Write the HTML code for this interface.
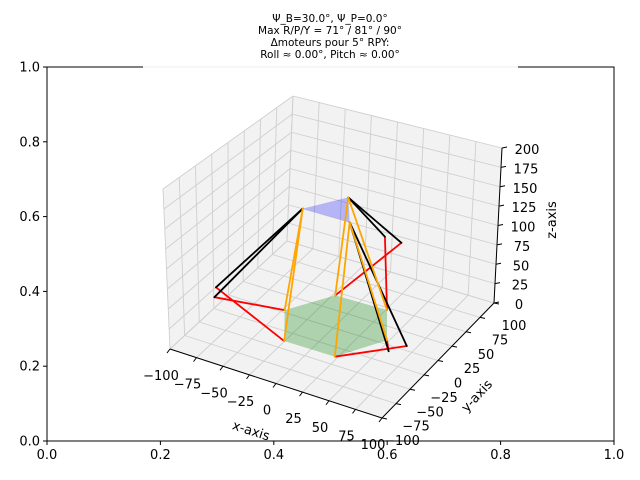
<!DOCTYPE html>
<html><head><meta charset="utf-8">
<style>
html,body{margin:0;padding:0;background:#fff;}
svg{display:block;font-family:"DejaVu Sans","Liberation Sans",sans-serif;}
</style></head>
<body>
<svg id="chart" width="640" height="480" viewBox="0 0 640 480" xmlns="http://www.w3.org/2000/svg" style="position:absolute;left:0;top:0">
  <g id="outer"></g>
  <g font-size="10.5" text-anchor="middle" fill="#000">
    <text x="330" y="22">Ψ_B=30.0°, Ψ_P=0.0°</text>
    <text x="330" y="34">Max R/P/Y = 71° / 81° / 90°</text>
    <text x="330" y="46">Δmoteurs pour 5° RPY:</text>
    <text x="330" y="58">Roll ≈ 0.00°, Pitch ≈ 0.00°</text>
  </g>
  <g id="box"></g>
  <g id="data"></g>
  <g id="labels"></g>
  <g font-size="13">
    <text x="251" y="435" text-anchor="middle" transform="rotate(18 251 431)">x-axis</text>
    <text x="477" y="400" text-anchor="middle" transform="rotate(-47 477 396)">y-axis</text>
    <text x="552" y="224" text-anchor="middle" transform="rotate(-90 552 220)">z-axis</text>
  </g>
</svg>
<script>
// ---- data ----
const outerTicks = [0.0, 0.2, 0.4, 0.6, 0.8, 1.0];
const xTicks = [-100, -75, -50, -25, 0, 25, 50, 75, 100];
const yTicks = [-100, -75, -50, -25, 0, 25, 50, 75, 100];
const zTicks = [0, 25, 50, 75, 100, 125, 150, 175, 200];
// base joints (z=0)
const baseX = [-47, -25, 22, 47, 25, -22];
const baseY = [3, -39, -38, 7, 48, 45];
const baseZ = [0, 0, 0, 0, 0, 0];
// platform joints
const platX = [-22, -22, 21, 21, 2, 2];
const platY = [-12, -12, -10, -10, 23, 23];
const platZ = [150, 150, 150, 150, 150, 150];
// horn tips
const hornX = [-83, -89, 56, 65, 22, 38];
const hornY = [-53, -39, -7, 8, 50, 49];
const hornZ = [40, 40, 0, 0, 90, 90];
const hornBase = [0, 1, 3, 2, 4, 5];

const NS = "http://www.w3.org/2000/svg";
function mk(tag, attrs, parent) {
  const e = document.createElementNS(NS, tag);
  for (const k in attrs) e.setAttribute(k, attrs[k]);
  parent.appendChild(e);
  return e;
}

// ---- outer 2D axes ----
const OL = 47, OR = 614, OT = 67, OB = 441;
const ox = v => OL + v * (OR - OL);
const oy = v => OB - v * (OB - OT);
const outer = document.getElementById('outer');
mk('rect', {x: OL, y: OT, width: OR - OL, height: OB - OT, fill: '#fff', stroke: '#000', 'stroke-width': 1}, outer);
outerTicks.forEach(t => {
  const l1 = mk('line', {x1: ox(t), x2: ox(t), y1: OB, y2: OB + 4, stroke: '#000'}, outer);
  
  
  const t1 = mk('text', {x: ox(t), y: OB + 18, 'font-size': 13, 'text-anchor': 'middle'}, outer);
  t1.textContent = t.toFixed(1);
  
  
  const l2 = mk('line', {x1: OL - 4, x2: OL, y1: oy(t), y2: oy(t), stroke: '#000'}, outer);
  
  
  const t2 = mk('text', {x: OL - 7, y: oy(t) + 4.5, 'font-size': 13, 'text-anchor': 'end'}, outer);
  t2.textContent = t.toFixed(1);
  
  
});
mk('rect', {x: 143, y: 66, width: 375, height: 3, fill: '#fff'}, outer);
mk('line', {x1: 143, x2: 518, y1: 67, y2: 67, stroke: '#eeeeee', 'stroke-width': 1}, outer);

// ---- 3D projection ----
const botC = {A: [170, 349], B: [382, 418], C: [494, 303], D: [287, 241]};
const topC = {A: [163, 189], B: [378, 250], C: [502, 148], D: [293, 96]};
function lerp(a, b, t) { return [a[0] + (b[0] - a[0]) * t, a[1] + (b[1] - a[1]) * t]; }
function proj(x, y, z) {
  const u = (x + 100) / 200, v = (y + 100) / 200, w = z / 200;
  const pb = lerp(lerp(botC.A, botC.B, u), lerp(botC.D, botC.C, u), v);
  const pt = lerp(lerp(topC.A, topC.B, u), lerp(topC.D, topC.C, u), v);
  return lerp(pb, pt, w);
}
function projD(x, y, z) {
  return [333 + x * 1.065 + y * 0.57, 328 + x * 0.345 - y * 0.555 - z * 0.79];
}
const pts = arr => arr.map(p => p.join(',')).join(' ');

const box = document.getElementById('box');
const pane = (c, name) => {
  const p = mk('polygon', {points: pts(c), fill: '#f2f2f2', stroke: 'none'}, box);
  
  
};
pane([proj(-100, -100, 0), proj(-100, 100, 0), proj(-100, 100, 200), proj(-100, -100, 200)], 'left-pane');
pane([proj(-100, 100, 0), proj(100, 100, 0), proj(100, 100, 200), proj(-100, 100, 200)], 'back-pane');
pane([proj(-100, -100, 0), proj(100, -100, 0), proj(100, 100, 0), proj(-100, 100, 0)], 'floor-pane');
const gl = (a, b) => {
  const l = mk('polyline', {points: pts([a, b]), fill: 'none', stroke: '#cfcfcf', 'stroke-width': 0.9}, box);
  
  
};
xTicks.forEach(x => { gl(proj(x, -100, 0), proj(x, 100, 0)); gl(proj(x, 100, 0), proj(x, 100, 200)); });
yTicks.forEach(y => { gl(proj(-100, y, 0), proj(100, y, 0)); gl(proj(-100, y, 0), proj(-100, y, 200)); });
zTicks.forEach(z => { gl(proj(-100, -100, z), proj(-100, 100, z)); gl(proj(-100, 100, z), proj(100, 100, z)); });
const axl = (a, b, name) => {
  const l = mk('polyline', {points: pts([a, b]), stroke: '#000', 'stroke-width': 1, fill: 'none'}, box);
  
  
};
axl(proj(-100, -100, 0), proj(100, -100, 0), 'x-axis-line');
axl(proj(100, -100, 0), proj(100, 100, 0), 'y-axis-line');
axl(proj(100, 100, 0), proj(100, 100, 200), 'z-axis-line');

// ---- data marks ----
const dg = document.getElementById('data');
const hexPts = baseX.map((x, i) => projD(x, baseY[i], baseZ[i]));
const hex = mk('polygon', {points: pts(hexPts), fill: 'rgba(0,128,0,0.28)', stroke: 'none'}, dg);


const platPts = platX.map((x, i) => projD(x, platY[i], platZ[i]));
const plat = mk('polygon', {points: pts(platPts), fill: 'rgba(0,0,255,0.25)', stroke: 'none'}, dg);


const seg = (a, b, col, name) => {
  const l = mk('polyline', {points: pts([a, b]), stroke: col, 'stroke-width': 1.8, fill: 'none', 'stroke-linecap': 'round'}, dg);
  
  
};
for (let i = 0; i < 6; i++) {
  const b = hornBase[i];
  seg(projD(baseX[b], baseY[b], baseZ[b]), projD(hornX[i], hornY[i], hornZ[i]), '#ff0000', 'horn-arm');
}
for (let i = 0; i < 6; i++) {
  const b = hornBase[i];
  seg(projD(hornX[i], hornY[i], hornZ[i]), projD(platX[b], platY[b], platZ[b]), '#000000', 'rod');
}
for (let i = 0; i < 6; i++) {
  seg(projD(baseX[i], baseY[i], baseZ[i]), projD(platX[i], platY[i], platZ[i]), '#ffa500', 'leg');
}

// ---- tick marks & labels ----
const lg = document.getElementById('labels');
xTicks.forEach(x => {
  const p = proj(x, -100, 0);
  const l = mk('line', {x1: p[0], y1: p[1], x2: p[0] - 3, y2: p[1] + 4, stroke: '#000'}, lg);
  
  
  const t = mk('text', {x: p[0] - 9, y: p[1] + 31, 'font-size': 13, 'text-anchor': 'middle'}, lg);
  t.textContent = x < 0 ? '\u2212' + (-x) : String(x);
  
  
});
yTicks.forEach(y => {
  const p = proj(100, y, 0);
  const l = mk('line', {x1: p[0], y1: p[1], x2: p[0] + 5, y2: p[1] + 1, stroke: '#000'}, lg);
  
  
  const t = mk('text', {x: p[0] + 20, y: p[1] + 27, 'font-size': 13, 'text-anchor': 'middle'}, lg);
  t.textContent = y < 0 ? '\u2212' + (-y) : String(y);
  
  
});
zTicks.forEach(z => {
  const p = proj(100, 100, z);
  const l = mk('line', {x1: p[0], y1: p[1], x2: p[0] + 5, y2: p[1] - 1, stroke: '#000'}, lg);
  
  
  const t = mk('text', {x: p[0] + 25, y: p[1] + 6, 'font-size': 13, 'text-anchor': 'middle'}, lg);
  t.textContent = String(z);
  
  
});
</script>
</body></html>
